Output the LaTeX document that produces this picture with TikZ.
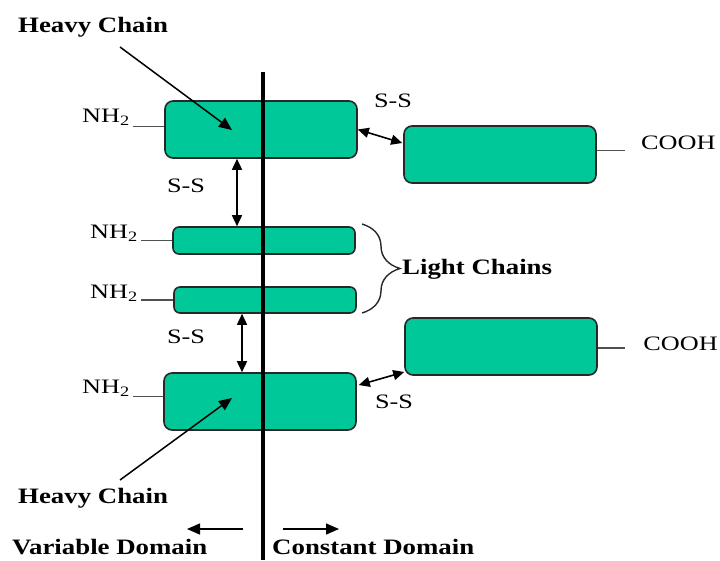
\documentclass[tikz,border=0pt]{standalone}
\usepackage{fontspec}
\setmainfont{Liberation Serif}
\newfontfamily\labelfont{Liberation Serif}[FakeStretch=1.28]
\newfontfamily\titlefont{Liberation Serif}[FakeStretch=1.22]
\usetikzlibrary{arrows.meta,calc,decorations.pathreplacing}
\definecolor{chaingreen}{RGB}{0,200,152}
\definecolor{edgegrey}{RGB}{40,40,40}
\definecolor{stubgrey}{RGB}{80,80,80}

\begin{document}
\begin{tikzpicture}[x=1pt,y=-1pt,
  heavy/.style={draw=edgegrey, line width=1.6pt, fill=chaingreen, rounded corners=8pt,
    inner sep=0pt, minimum width=192pt, minimum height=57pt},
  light/.style={heavy, minimum width=182pt, minimum height=27pt, rounded corners=6pt},
  txt/.style={inner sep=0pt, text=black, font=\labelfont\fontsize{20.5}{24}\selectfont},
  ttl/.style={inner sep=0pt, text=black, font=\titlefont\bfseries\fontsize{22}{26}\selectfont},
  stub/.style={draw=stubgrey, line width=1.7pt},
  bond/.style={{Triangle[length=11pt,width=10pt]}-{Triangle[length=11pt,width=10pt]}, line width=1.6pt},
  pointer/.style={-{Triangle[length=13pt,width=11pt]}, line width=1.5pt},
]
\useasboundingbox (0,0) rectangle (720,560);

% chain segments
\node[heavy] (h1) at (261,129.5) {};
\node[heavy] (r1) at (500,154.5) {};
\node[light] (l1) at (264,240.5) {};
\node[light, minimum height=26pt] (l2) at (265,300) {};
\node[heavy] (r2) at (501,346.5) {};
\node[heavy] (h2) at (260,401.5) {};

% boundary between variable and constant domains
\coordinate (vtop) at (263,72);
\coordinate (vbot) at (263,560);
\draw[line width=4.2pt] (vtop) -- (vbot);

% terminal labels
\node[txt, anchor=base west] (n1) at (82,122) {NH\textsubscript{2}};
\node[txt, anchor=base west] (n2) at (90,238) {NH\textsubscript{2}};
\node[txt, anchor=base west] (n3) at (90,298) {NH\textsubscript{2}};
\node[txt, anchor=base west] (n4) at (82,393) {NH\textsubscript{2}};
\node[txt, anchor=base west] (c1) at (641,149) {COOH};
\node[txt, anchor=base east] (c2) at (718,350) {COOH};

\draw[stub, shorten >=3pt] ($(h1.west)+(0,-3)$) -- ($(n1.east |- h1.west)+(0,-3)$);
\draw[stub, shorten >=3pt] (l1.west) -- (n2.east |- l1.west);
\draw[stub, shorten >=3pt] (l2.west) -- (n3.east |- l2.west);
\draw[stub, shorten >=3pt] ($(h2.west)+(0,-5)$) -- ($(n4.east |- h2.west)+(0,-5)$);
\draw[stub, shorten >=16pt] ($(r1.east)+(0,-4)$) -- ($(c1.west |- r1.east)+(0,-4)$);
\draw[stub, shorten >=18pt] ($(r2.east)+(0,1.5)$) -- ($(c2.west |- r2.east)+(0,1.5)$);

% disulfide bonds
\node[txt] (s1) at (393,101) {S-S};
\node[txt] (s2) at (186,186) {S-S};
\node[txt] (s3) at (186,337) {S-S};
\node[txt] (s4) at (394,402) {S-S};
\draw[bond] (h1.east) -- ($(r1.west)+(-1,-11.5)$);
\draw[bond] ($(h2.east)+(2,-16.5)$) -- ($(r2.west)+(0,25.5)$);
\draw[bond] ($(h1.south)+(-24,0)$) -- ($(l1.north)+(-27,0)$);
\draw[bond] ($(l2.south)+(-23,0)$) -- ($(h2.north)+(-18,0)$);

% light chain brace
\coordinate (btop) at (362,224);
\coordinate (bbot) at (362,313);
\draw[line width=1.4pt, edgegrey, decorate, decoration={brace, amplitude=38pt}] (btop) -- (bbot);
\node[ttl, anchor=base west] (lc) at (402,274) {Light Chains};

% heavy chain callouts
\node[ttl, anchor=base west] (hc1) at (18,32) {Heavy Chain};
\node[ttl, anchor=base west] (hc2) at (18,503) {Heavy Chain};
\coordinate (p1) at (120,47);
\coordinate (p2) at (120,480);
\draw[pointer] (p1) -- ($(h1.center)+(-29,0.5)$);
\draw[pointer] (p2) -- ($(h2.center)+(-28,-3.5)$);

% domain directions
\node[ttl, anchor=base west] (vd) at (12,554) {Variable Domain};
\node[ttl, anchor=base west] (cd) at (272,554) {Constant Domain};
\coordinate (la) at (243,529);
\coordinate (lb) at (187,529);
\coordinate (ra) at (283,529);
\coordinate (rb) at (339,529);
\draw[pointer] (la) -- (lb);
\draw[pointer] (ra) -- (rb);
\end{tikzpicture}
\end{document}
